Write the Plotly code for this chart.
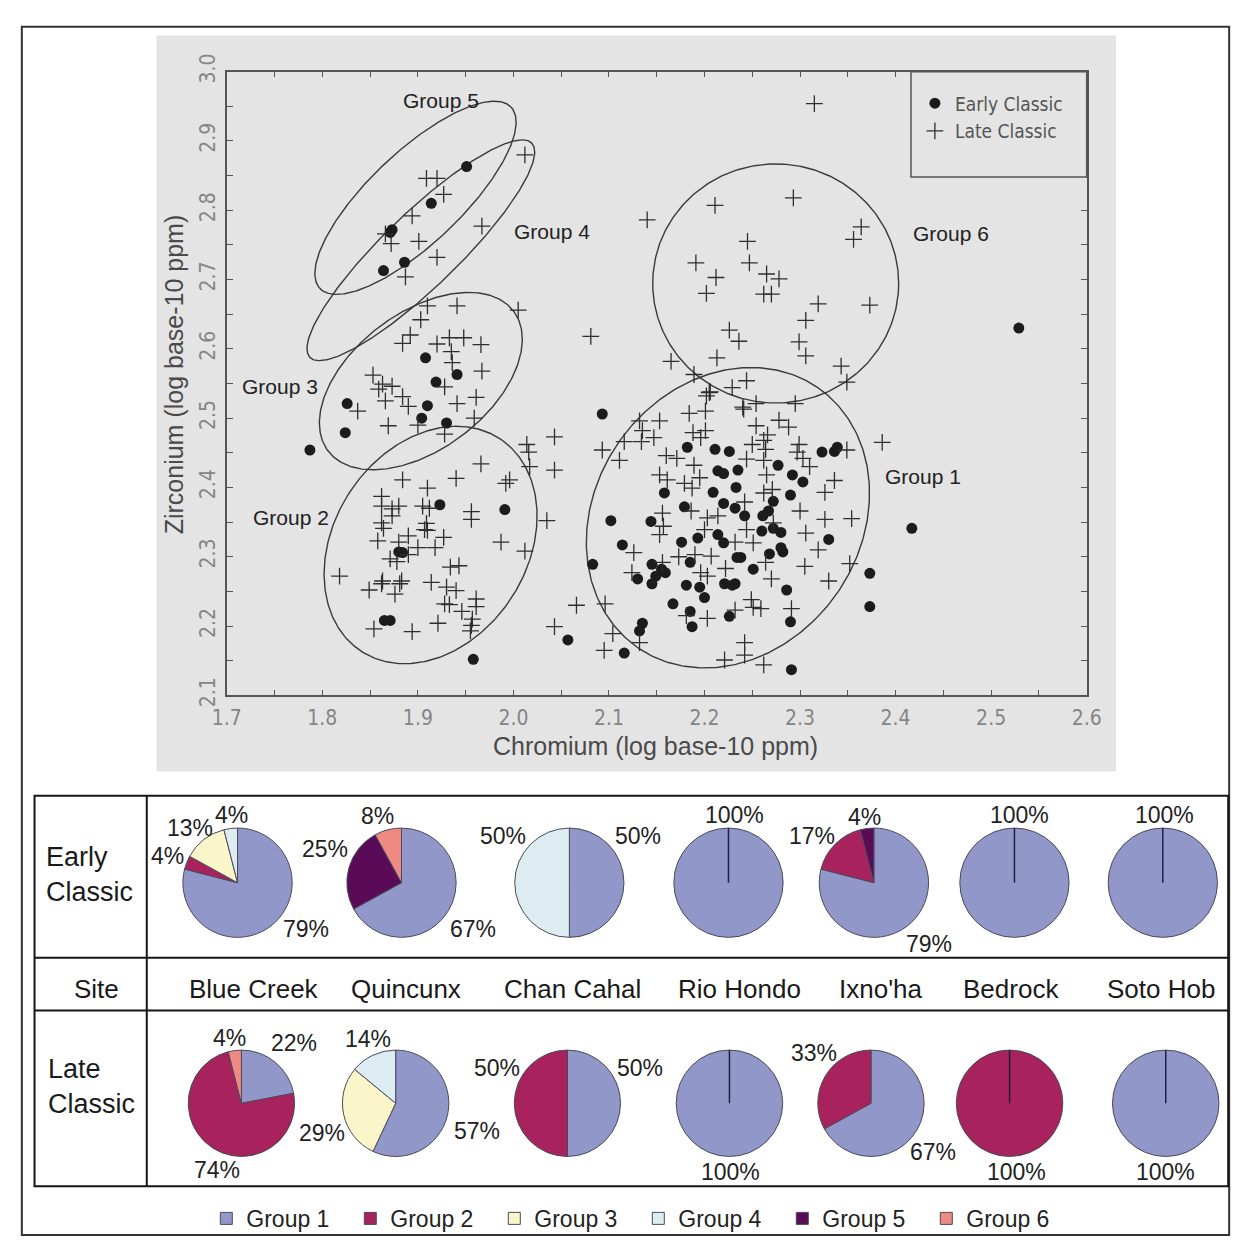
import numpy as np
import plotly.graph_objects as go

# ---------------- Scatter data (log10 ppm) ----------------
early_cr = [1.951, 1.914, 1.873, 1.871, 1.886, 1.864, 1.908, 1.941, 1.919, 1.910,
            1.826, 1.824, 1.904, 1.930, 1.787, 1.923, 1.991, 1.880, 1.884, 1.865,
            1.871, 1.958, 2.093, 2.057, 2.116, 2.529, 2.417, 2.373, 2.373, 2.291,
            2.182, 2.211, 2.226, 2.214, 2.220, 2.158, 2.209, 2.179, 2.220, 2.102,
            2.144, 2.323, 2.336, 2.339, 2.277, 2.235, 2.292, 2.303, 2.290, 2.272,
            2.233, 2.232, 2.267, 2.261, 2.242, 2.272, 2.280, 2.260, 2.114, 2.176,
            2.193, 2.214, 2.220, 2.083, 2.145, 2.155, 2.159, 2.185, 2.149, 2.130,
            2.145, 2.181, 2.195, 2.200, 2.221, 2.167, 2.185, 2.226, 2.187, 2.135,
            2.132, 2.330, 2.234, 2.238, 2.268, 2.282, 2.251, 2.232, 2.286, 2.290,
            2.229, 2.280]
early_zr = [2.863, 2.810, 2.772, 2.768, 2.725, 2.713, 2.587, 2.563, 2.552, 2.518,
            2.521, 2.479, 2.500, 2.493, 2.454, 2.375, 2.368, 2.307, 2.306, 2.208,
            2.208, 2.152, 2.506, 2.180, 2.161, 2.630, 2.341, 2.276, 2.228, 2.137,
            2.458, 2.455, 2.452, 2.424, 2.420, 2.392, 2.393, 2.372, 2.377, 2.352,
            2.351, 2.451, 2.452, 2.458, 2.432, 2.425, 2.418, 2.408, 2.389, 2.380,
            2.400, 2.370, 2.366, 2.359, 2.359, 2.341, 2.335, 2.337, 2.317, 2.321,
            2.327, 2.332, 2.320, 2.289, 2.289, 2.282, 2.277, 2.292, 2.272, 2.268,
            2.261, 2.259, 2.256, 2.241, 2.261, 2.232, 2.221, 2.214, 2.199, 2.204,
            2.193, 2.325, 2.299, 2.299, 2.304, 2.307, 2.282, 2.261, 2.252, 2.206,
            2.259, 2.313]

late_cr = [1.909, 1.920, 1.927, 1.894, 1.967, 1.866, 1.872, 1.901, 1.920, 1.887,
           2.012, 2.005, 1.910, 1.941, 1.903, 1.892, 1.884, 1.920, 1.933, 1.948,
           1.935, 1.966, 1.936, 1.967, 1.853, 1.863, 1.859, 1.873, 1.884, 1.866,
           1.890, 1.928, 1.941, 1.961, 1.837, 1.869, 1.900, 1.928, 1.959, 2.014,
           2.016, 2.017, 2.043, 2.043, 1.966, 1.940, 1.884, 1.910, 1.996, 1.992,
           1.862, 1.862, 1.880, 1.873, 1.873, 1.905, 1.912, 1.956, 1.956, 1.862,
           1.864, 1.909, 1.907, 1.910, 2.035, 1.890, 1.927, 1.858, 1.880, 1.900,
           1.918, 1.987, 2.012, 1.871, 1.878, 1.890, 1.943, 1.934, 1.818, 1.863,
           1.862, 1.883, 1.881, 1.914, 1.930, 1.940, 1.849, 1.876, 1.928, 1.933,
           1.961, 1.961, 1.946, 1.957, 1.921, 1.956, 1.854, 1.894, 1.955, 2.043,
           2.081, 2.066, 2.093, 2.111, 2.095, 2.096, 2.205, 2.201, 2.184, 2.153,
           2.132, 2.135, 2.147, 2.134, 2.116, 2.188, 2.201, 2.196, 2.160, 2.171,
           2.189, 2.153, 2.161, 2.195, 2.179, 2.187, 2.156, 2.186, 2.203, 2.214,
           2.157, 2.200, 2.244, 2.349, 2.241, 2.254, 2.295, 2.278, 2.254, 2.288,
           2.266, 2.262, 2.250, 2.299, 2.264, 2.297, 2.349, 2.386, 2.303, 2.244,
           2.262, 2.310, 2.265, 2.336, 2.326, 2.262, 2.271, 2.242, 2.300, 2.326,
           2.354, 2.272, 2.244, 2.153, 2.126, 2.173, 2.190, 2.207, 2.156, 2.124,
           2.196, 2.203, 2.222, 2.181, 2.203, 2.104, 2.132, 2.221, 2.306, 2.232,
           2.251, 2.319, 2.264, 2.305, 2.352, 2.270, 2.330, 2.249, 2.251, 2.259,
           2.291, 2.232, 2.242, 2.242, 2.262, 2.315, 2.140, 2.165, 2.189, 2.202,
           2.206, 2.229, 2.240, 2.213, 2.343, 2.211, 2.293, 2.364, 2.356, 2.245,
           2.191, 2.247, 2.265, 2.278, 2.212, 2.202, 2.262, 2.270, 2.373, 2.319,
           2.306, 2.226, 2.236, 2.299, 2.306]
late_zr = [2.846, 2.846, 2.823, 2.792, 2.777, 2.766, 2.752, 2.755, 2.732, 2.704,
           2.880, 2.656, 2.662, 2.662, 2.642, 2.620, 2.608, 2.607, 2.616, 2.616,
           2.596, 2.606, 2.580, 2.568, 2.562, 2.549, 2.542, 2.546, 2.531, 2.525,
           2.517, 2.545, 2.521, 2.530, 2.510, 2.489, 2.490, 2.477, 2.500, 2.462,
           2.451, 2.430, 2.473, 2.425, 2.434, 2.413, 2.411, 2.399, 2.411, 2.406,
           2.387, 2.373, 2.373, 2.369, 2.359, 2.373, 2.370, 2.365, 2.354, 2.349,
           2.341, 2.348, 2.339, 2.338, 2.352, 2.330, 2.328, 2.323, 2.321, 2.313,
           2.313, 2.321, 2.308, 2.297, 2.293, 2.303, 2.287, 2.285, 2.272, 2.265,
           2.261, 2.265, 2.261, 2.263, 2.256, 2.251, 2.252, 2.246, 2.232, 2.231,
           2.239, 2.228, 2.221, 2.210, 2.204, 2.201, 2.196, 2.192, 2.193, 2.199,
           2.618, 2.230, 2.454, 2.439, 2.165, 2.232, 2.537, 2.510, 2.507, 2.496,
           2.496, 2.482, 2.472, 2.466, 2.466, 2.479, 2.482, 2.472, 2.446, 2.442,
           2.432, 2.418, 2.411, 2.414, 2.406, 2.399, 2.363, 2.366, 2.356, 2.359,
           2.344, 2.339, 2.554, 2.552, 2.513, 2.521, 2.521, 2.497, 2.489, 2.487,
           2.476, 2.468, 2.462, 2.462, 2.455, 2.451, 2.454, 2.465, 2.442, 2.441,
           2.439, 2.430, 2.418, 2.410, 2.393, 2.392, 2.397, 2.379, 2.366, 2.354,
           2.355, 2.349, 2.339, 2.332, 2.306, 2.300, 2.303, 2.301, 2.292, 2.277,
           2.277, 2.272, 2.283, 2.215, 2.211, 2.189, 2.176, 2.151, 2.334, 2.321,
           2.320, 2.310, 2.292, 2.286, 2.290, 2.268, 2.265, 2.238, 2.227, 2.225,
           2.225, 2.223, 2.176, 2.158, 2.144, 2.954, 2.786, 2.582, 2.563, 2.532,
           2.538, 2.544, 2.516, 2.587, 2.575, 2.807, 2.818, 2.776, 2.758, 2.755,
           2.724, 2.724, 2.708, 2.701, 2.703, 2.680, 2.679, 2.679, 2.663, 2.665,
           2.641, 2.627, 2.611, 2.610, 2.590]

# ---------------- Site composition data (percent of samples) ----------------
group_names = ["Group 1", "Group 2", "Group 3", "Group 4", "Group 5", "Group 6"]
sites = ["Blue Creek", "Quincunx", "Chan Cahal", "Rio Hondo", "Ixno'ha", "Bedrock", "Soto Hob"]
early_pct = [
    [79, 4, 13, 4, 0, 0],
    [67, 0, 0, 0, 25, 8],
    [50, 0, 0, 50, 0, 0],
    [100, 0, 0, 0, 0, 0],
    [79, 17, 0, 0, 4, 0],
    [100, 0, 0, 0, 0, 0],
    [100, 0, 0, 0, 0, 0],
]
late_pct = [
    [22, 74, 0, 0, 0, 4],
    [57, 0, 29, 14, 0, 0],
    [50, 50, 0, 0, 0, 0],
    [100, 0, 0, 0, 0, 0],
    [67, 33, 0, 0, 0, 0],
    [0, 100, 0, 0, 0, 0],
    [100, 0, 0, 0, 0, 0],
]

# ---------------- Styling / layout constants ----------------
W, H = 1251, 1248
group_colors = ["#9197c8", "#a8225e", "#fbf6c9", "#dcecf0", "#5a0b57", "#ee8a82"]
FONT = "Liberation Sans, Arial, sans-serif"
NARROW = "Liberation Sans Narrow, Arial Narrow, DejaVu Sans Condensed, sans-serif"

# scatter plot area (pixels)
PX0, PX1, PY0, PY1 = 217, 1098, 55, 694
XR, YR = (1.7, 2.6), (2.1, 3.0)
px_per_cr = (PX1 - PX0) / (XR[1] - XR[0])
px_per_zr = (PY1 - PY0) / (YR[1] - YR[0])


def fx(x):
    return x / W


def fy(y):
    return 1 - y / H


# cluster outlines: centre (Cr, Zr), semi-axes in screen px, tilt in degrees
ellipses = [
    (2.2245, 2.3563, 162, 136, 55),
    (1.9133, 2.3169, 130, 99, 57),
    (1.9031, 2.5535, 119, 70, 37),
    (1.9031, 2.7423, 158, 38, 44),
    (1.8975, 2.8180, 135, 47, 43.5),
    (2.2745, 2.6944, 126, 122.5, 0),
]
group_label_pos = [
    (2.4286, 2.4155), (1.767, 2.356), (1.756, 2.545),
    (2.0408, 2.770), (1.9245, 2.9577), (2.458, 2.766),
]

fig = go.Figure()

# cluster ellipses
t = np.linspace(0, 2 * np.pi, 361)
for cx, cy, a, b, ang in ellipses:
    th = np.radians(ang)
    u, v = a * np.cos(t), b * np.sin(t)
    dx = u * np.cos(th) - v * np.sin(th)
    dy = u * np.sin(th) + v * np.cos(th)
    fig.add_trace(go.Scatter(
        x=cx + dx / px_per_cr, y=cy + dy / px_per_zr, mode="lines",
        line=dict(color="#3a3a3a", width=1.4), showlegend=False, hoverinfo="skip"))

fig.add_trace(go.Scatter(
    x=early_cr, y=early_zr, mode="markers", name="Early Classic",
    marker=dict(symbol="circle", size=11, color="#1c1c1c"), legend="legend"))
fig.add_trace(go.Scatter(
    x=late_cr, y=late_zr, mode="markers", name="Late Classic",
    marker=dict(symbol="cross-thin", size=12, line=dict(color="#2e2e2e", width=1.3)),
    legend="legend"))

# ---------------- Pie charts ----------------
rows = [
    (early_pct, [228, 396, 568, 731, 880, 1024, 1176], 886, 56),
    (late_pct, [232, 390, 566, 732, 877, 1019, 1179], 1112, 54.5),
]
radial = []
for pct, cxs, cy, r in rows:
    for vals, cx in zip(pct, cxs):
        labs = [g for g, v in zip(group_names, vals) if v > 0]
        vv = [v for v in vals if v > 0]
        cols = [c for c, v in zip(group_colors, vals) if v > 0]
        fig.add_trace(go.Pie(
            labels=labs, values=vv, sort=False, direction="clockwise", rotation=0,
            textinfo="none", hoverinfo="label+percent",
            marker=dict(colors=cols, line=dict(color="#4a4a5a", width=1)),
            domain=dict(x=[fx(cx - r), fx(cx + r)], y=[fy(cy + r), fy(cy - r)]),
            legend="legend2", showlegend=True))
        if max(vals) == 100:
            radial.append(dict(type="line", xref="paper", yref="paper",
                               x0=fx(cx), x1=fx(cx), y0=fy(cy), y1=fy(cy - r),
                               line=dict(color="#1e2040", width=1.5)))

# percentage label positions (px), in slice order of each pie
early_lab_xy = [
    [(298, 933), (156, 859), (179, 830), (222, 817)],
    [(469, 933), (318, 851), (371, 818)],
    [(638, 838), (500, 838)],
    [(737, 817)],
    [(936, 949), (817, 838), (870, 819)],
    [(1029, 817)],
    [(1178, 817)],
]
late_lab_xy = [
    [(286, 1050), (207, 1180), (220, 1045)],
    [(473, 1140), (315, 1142), (362, 1046)],
    [(640, 1076), (494, 1076)],
    [(733, 1182)],
    [(941, 1162), (819, 1061)],
    [(1026, 1182)],
    [(1179, 1182)],
]


def label(x, y, text, size, color="#1a1a1a", **kw):
    d = dict(x=fx(x), y=fy(y), xref="paper", yref="paper", text=text, showarrow=False,
             xanchor="center", yanchor="middle",
             font=dict(family=FONT, size=size, color=color))
    d.update(kw)
    return d


annotations = []
for pct, labxy in ((early_pct, early_lab_xy), (late_pct, late_lab_xy)):
    for vals, xy in zip(pct, labxy):
        vv = [v for v in vals if v > 0]
        for v, (x, y) in zip(vv, xy):
            annotations.append(label(x, y, f"{v}%", 23, "#222"))

# table texts
annotations.append(label(30, 878, "Early<br>Classic", 27, xanchor="left", align="left"))
annotations.append(label(32, 1095, "Late<br>Classic", 27, xanchor="left", align="left"))
annotations.append(label(83, 995, "Site", 26))
for name, x in zip(sites, [245, 401, 571, 742, 887, 1020, 1174]):
    annotations.append(label(x, 995, name, 26))

# cluster labels
for name, (x, y) in zip(group_names, group_label_pos):
    annotations.append(dict(x=x, y=y, xref="x", yref="y", text=name, showarrow=False,
                            xanchor="center", yanchor="middle",
                            font=dict(family=FONT, size=21, color="#222")))

# axis titles
annotations.append(label(656, 746, "Chromium (log base-10 ppm)", 25, "#4a4a4a"))
annotations.append(label(163, 365, "Zirconium (log base-10 ppm)", 25, "#4a4a4a", textangle=-90))


# ---------------- Frames, panel, table grid ----------------
def rect(x0, y0, x1, y1, **kw):
    d = dict(type="rect", xref="paper", yref="paper",
             x0=fx(x0), x1=fx(x1), y0=fy(y1), y1=fy(y0))
    d.update(kw)
    return d


def hline(y, x0, x1):
    return dict(type="line", xref="paper", yref="paper", x0=fx(x0), x1=fx(x1),
                y0=fy(y), y1=fy(y), line=dict(color="#151515", width=2))


shapes = [
    rect(145, 18, 1128, 772, fillcolor="#e4e4e4", line=dict(width=0), layer="below"),
    rect(7, 9, 1244, 1247, line=dict(color="#333", width=2)),
    rect(20, 797, 1243, 1197, line=dict(color="#151515", width=2)),
    hline(963, 20, 1243),
    hline(1017, 20, 1243),
    dict(type="line", xref="paper", yref="paper", x0=fx(135), x1=fx(135),
         y0=fy(1197), y1=fy(797), line=dict(color="#151515", width=2)),
    rect(918, 55, 1098, 163, fillcolor="#e4e4e4", line=dict(color="#555", width=1.5),
         layer="above"),
] + radial

axis_common = dict(
    showgrid=False, zeroline=False, showline=True, linecolor="#555", linewidth=1.5,
    mirror="allticks", ticks="inside", ticklen=6, tickwidth=1.2, tickcolor="#555",
    dtick=0.1, tickformat=".1f",
    minor=dict(dtick=0.05, ticks="inside", ticklen=6, tickwidth=1.2, tickcolor="#555"),
    tickfont=dict(family=NARROW, size=21, color="#858585"),
)

fig.update_layout(
    width=W, height=H, margin=dict(l=0, r=0, t=0, b=0),
    paper_bgcolor="white", plot_bgcolor="rgba(0,0,0,0)",
    xaxis=dict(domain=[fx(PX0), fx(PX1)], range=list(XR), tick0=1.7,
               ticklabelstandoff=3, **axis_common),
    yaxis=dict(domain=[fy(PY1), fy(PY0)], range=list(YR), tick0=2.1, tickangle=-90,
               ticklabelstandoff=2, **axis_common),
    legend=dict(x=fx(922), y=fy(68), xanchor="left", yanchor="top",
                bgcolor="rgba(0,0,0,0)", font=dict(family=NARROW, size=19, color="#555")),
    legend2=dict(orientation="h", x=fx(196), y=fy(1230), xanchor="left", yanchor="middle",
                 bgcolor="rgba(0,0,0,0)", entrywidth=99,
                 font=dict(family=FONT, size=23, color="#222")),
    shapes=shapes,
    annotations=annotations,
    showlegend=True,
)

fig.write_html("out.html", post_script="document.body.style.margin='0px';")
